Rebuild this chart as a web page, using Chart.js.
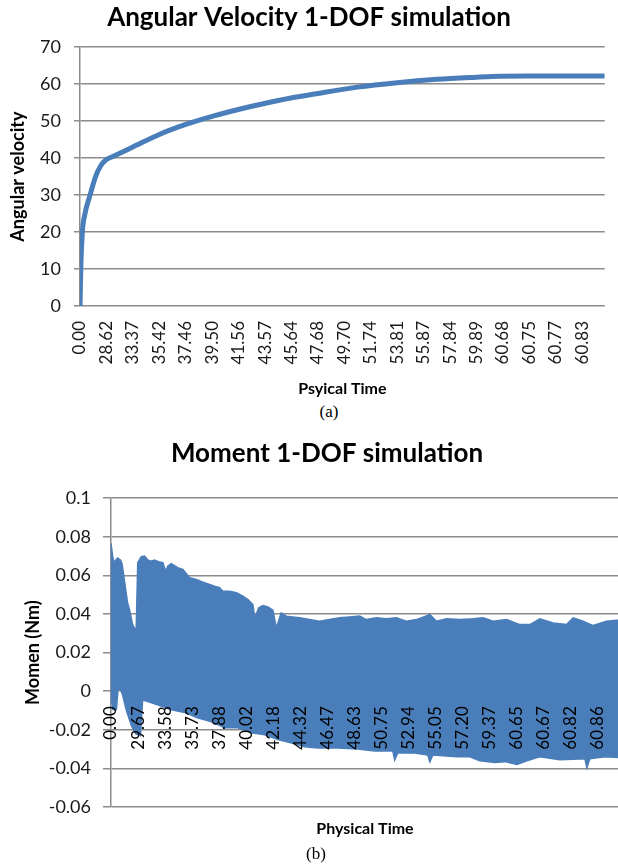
<!DOCTYPE html>
<html lang="en">
<head>
  <meta charset="UTF-8">
  <title>1-DOF simulation</title>
  <script src="https://cdn.jsdelivr.net/npm/chart.js"></script>
  <style>
    html, body { margin: 0; padding: 0; background: #fff; overflow: hidden; }
    #page { position: relative; width: 618px; height: 865px; overflow: hidden; }
    .box { position: absolute; left: 0; }
    .cap { position: absolute; font-family: "Liberation Serif", serif; font-size: 17px; color: #000;
           transform: translate(-50%, -50%); }
  </style>
</head>
<body>
<div id="page">
  <div class="box" style="top:0; width:618px; height:402px"><canvas id="velocityChart"></canvas></div>
  <div class="cap" style="left:329px; top:412px">(a)</div>
  <div class="box" style="top:430px; width:654px; height:435px"><canvas id="momentChart"></canvas></div>
  <div class="cap" style="left:316px; top:854px">(b)</div>
</div>

<script>
  // (a) angular velocity - x is the position in category-label steps
  const velocityTimeLabels = ['0.00', '28.62', '33.37', '35.42', '37.46', '39.50', '41.56', '43.57', '45.64', '47.68',
                              '49.70', '51.74', '53.81', '55.87', '57.84', '59.89', '60.68', '60.75', '60.77', '60.83'];
  const velocityX = [0, 0.03, 0.09, 0.19, 0.38, 0.59, 0.79, 1.0, 1.2, 2.0, 3.0, 4.0, 5.1, 6.3, 7.5, 9.0, 10.5, 12.0, 13.5, 15.0, 15.6, 17.0, 19.85];
  const velocityY = [0, 10, 20, 25, 30, 35, 38, 39.6, 40.3, 43, 46.4, 49.1, 51.5, 53.7, 55.6, 57.5, 59.2, 60.4, 61.3, 61.9, 62.1, 62.2, 62.2];

  // (b) moment - upper and lower envelope of the oscillation band
  const momentTimeLabels = ['0.00', '29.67', '33.58', '35.73', '37.88', '40.02', '42.18', '44.32', '46.47', '48.63',
                            '50.75', '52.94', '55.05', '57.20', '59.37', '60.65', '60.67', '60.82', '60.86'];
  const momentTopX = [0, 0.06, 0.11, 0.24, 0.35, 0.41, 0.5, 0.61, 0.69, 0.8, 0.93, 0.99, 1.12, 1.24, 1.36, 1.49, 1.61, 1.8, 1.92, 2.02,
                      2.1, 2.23, 2.47, 2.66, 2.76, 2.91, 3.16, 3.4, 3.65, 3.83, 4.02, 4.14, 4.39, 4.64, 4.88, 5.07, 5.25, 5.32, 5.47, 5.62,
                      5.81, 5.99, 6.12, 6.3, 6.49, 6.73, 6.98, 7.35, 7.72, 8.09, 8.46, 8.83, 9.2, 9.45, 9.82, 10.19, 10.56, 10.93, 11.3, 11.8,
                      12.04, 12.42, 12.91, 13.4, 13.77, 14.14, 14.64, 15.13, 15.5, 15.87, 16.36, 16.86, 17.1, 17.47, 17.84, 18.34, 18.71, 18.8];
  const momentTopY = [0.0766, 0.070, 0.0667, 0.069, 0.068, 0.066, 0.057, 0.046, 0.042, 0.0345, 0.031, 0.0666, 0.0697, 0.070, 0.068, 0.0674, 0.068, 0.0669, 0.0666, 0.0622,
                      0.0648, 0.0661, 0.064, 0.0631, 0.0614, 0.0588, 0.0579, 0.0565, 0.0553, 0.0544, 0.0536, 0.0518, 0.0518, 0.051, 0.0492, 0.0475, 0.0449, 0.038, 0.0432, 0.0444,
                      0.0437, 0.042, 0.0328, 0.0406, 0.0389, 0.0385, 0.038, 0.0371, 0.0363, 0.0371, 0.038, 0.0385, 0.0389, 0.0371, 0.038, 0.0375, 0.038, 0.0363, 0.0371, 0.0397,
                      0.0363, 0.0375, 0.0371, 0.0375, 0.038, 0.0363, 0.0371, 0.0345, 0.0345, 0.0375, 0.0354, 0.0345, 0.038, 0.0363, 0.034, 0.0363, 0.0368, 0.0368];
  const momentBottomX = [0, 0.06, 0.2, 0.26, 0.35, 0.43, 0.57, 0.76, 0.91, 1.09, 1.17, 1.72, 2.24, 2.72, 3.2, 3.72, 4.2, 4.69, 5.2, 5.69,
                         6.17, 6.69, 7.17, 7.65, 8.39, 9.13, 9.76, 10.43, 10.5, 10.61, 11.24, 11.72, 11.8, 11.91, 12.8, 13.28, 13.65, 14.2, 14.57, 15.02,
                         15.39, 15.87, 16.61, 17.54, 17.61, 17.72, 18.28, 18.8];
  const momentBottomY = [-0.002, -0.0095, -0.0095, 0.001, 0.001, -0.002, -0.010, -0.018, -0.022, -0.023, -0.0045, -0.007, -0.0096, -0.011, -0.0138, -0.0158, -0.019, -0.019, -0.0216, -0.0226,
                         -0.025, -0.0268, -0.0288, -0.0294, -0.0294, -0.030, -0.031, -0.031, -0.0356, -0.032, -0.032, -0.033, -0.0366, -0.033, -0.034, -0.034, -0.036, -0.037, -0.0365, -0.038,
                         -0.036, -0.034, -0.0355, -0.035, -0.0397, -0.035, -0.034, -0.0343];

  const blue = '#4a7ebb';
  const gridGray = '#8c8c8c';
  Chart.defaults.font.family = 'Lato, "Open Sans", sans-serif';
  Chart.defaults.color = '#1a1a1a';
  Chart.defaults.animation = false;

  const pts = (xs, ys) => xs.map((x, i) => ({ x: x, y: ys[i] }));
  const labelAt = (list) => (v) => {
    const i = Math.round(v);
    return Math.abs(v - i) < 1e-6 && list[i] !== undefined ? list[i] : '';
  };
  // empty right-hand axis, only reserves room so the title stays centred on the whole chart
  const spacer = (w) => ({
    type: 'linear', position: 'right', min: 0, max: 1,
    grid: { display: false, drawTicks: false }, border: { display: false },
    ticks: { display: false }, afterFit: s => { s.width = w; }
  });

  new Chart(document.getElementById('velocityChart'), {
    type: 'line',
    data: {
      datasets: [{
        data: pts(velocityX, velocityY),
        xAxisID: 'x', yAxisID: 'y',
        borderColor: blue,
        borderWidth: 5,
        pointRadius: 0,
        cubicInterpolationMode: 'monotone',
        fill: false
      }]
    },
    options: {
      responsive: true,
      maintainAspectRatio: false,
      layout: { padding: 0 },
      plugins: {
        legend: { display: false },
        tooltip: { enabled: false },
        title: {
          display: true, text: 'Angular Velocity 1-DOF simulation', color: '#000',
          font: { size: 26, weight: 'bold' }, padding: { top: 2, bottom: 14 }
        }
      },
      scales: {
        x: {
          type: 'linear', min: 0, max: 19.85,
          grid: { display: false, drawTicks: false },
          border: { display: false },
          ticks: {
            stepSize: 1, autoSkip: false, includeBounds: false,
            minRotation: 90, maxRotation: 90, padding: 15,
            font: { size: 17 }, callback: labelAt(velocityTimeLabels)
          },
          title: {
            display: true, text: 'Psyical Time', color: '#000',
            font: { size: 16, weight: 'bold' }, padding: { top: 0, bottom: 4 }
          },
          afterFit: s => { s.height = 96; }
        },
        y: {
          min: 0, max: 70,
          ticks: { stepSize: 10, padding: 13, font: { size: 18 } },
          grid: { color: gridGray, lineWidth: 1.5, tickLength: 6, tickColor: gridGray },
          border: { color: gridGray, width: 1.5 },
          title: {
            display: true, text: 'Angular velocity', color: '#000',
            font: { size: 18, weight: 'bold' }, padding: { top: 7, bottom: 0 }
          },
          afterFit: s => { s.width = 80; }
        },
        yPad: spacer(8)
      }
    }
  });

  new Chart(document.getElementById('momentChart'), {
    type: 'line',
    data: {
      datasets: [
        {
          data: pts(momentTopX, momentTopY),
          xAxisID: 'x', yAxisID: 'y',
          borderColor: blue, backgroundColor: blue, borderWidth: 1.5,
          pointRadius: 0, tension: 0, fill: '+1'
        },
        {
          data: pts(momentBottomX, momentBottomY),
          xAxisID: 'x', yAxisID: 'y',
          borderColor: blue, borderWidth: 1.5,
          pointRadius: 0, tension: 0, fill: false
        }
      ]
    },
    options: {
      responsive: true,
      maintainAspectRatio: false,
      layout: { padding: 0 },
      plugins: {
        legend: { display: false },
        tooltip: { enabled: false },
        title: {
          display: true, text: 'Moment 1-DOF simulation', color: '#000',
          font: { size: 26, weight: 'bold' }, padding: { top: 8, bottom: 29 }
        }
      },
      scales: {
        x: {
          type: 'linear', position: { y: 0 }, min: 0, max: 18.8,
          grid: { display: false, drawTicks: false },
          border: { display: false },
          ticks: {
            stepSize: 1, autoSkip: false, includeBounds: false,
            minRotation: 90, maxRotation: 90, padding: 15, z: 1, color: '#000',
            font: { size: 17 }, callback: labelAt(momentTimeLabels)
          }
        },
        x2: {
          type: 'linear', position: 'bottom', min: 0, max: 1,
          grid: { display: false, drawTicks: false },
          border: { display: false },
          ticks: { display: false },
          title: {
            display: true, text: 'Physical Time', color: '#000',
            font: { size: 16, weight: 'bold' }, padding: { top: 0, bottom: 27 }
          },
          afterFit: s => { s.height = 58; }
        },
        y: {
          min: -0.06, max: 0.1,
          ticks: {
            stepSize: 0.02, padding: 12, font: { size: 18 },
            callback: v => String(parseFloat(v.toFixed(2)))
          },
          grid: { color: gridGray, lineWidth: 1.5, tickLength: 8, tickColor: gridGray },
          border: { color: gridGray, width: 1.5 },
          title: {
            display: true, text: 'Momen (Nm)', color: '#000',
            font: { size: 18, weight: 'bold' }, padding: { top: 22, bottom: 0 }
          },
          afterFit: s => { s.width = 111; }
        },
        yPad: spacer(35)
      }
    }
  });
</script>
</body>
</html>
